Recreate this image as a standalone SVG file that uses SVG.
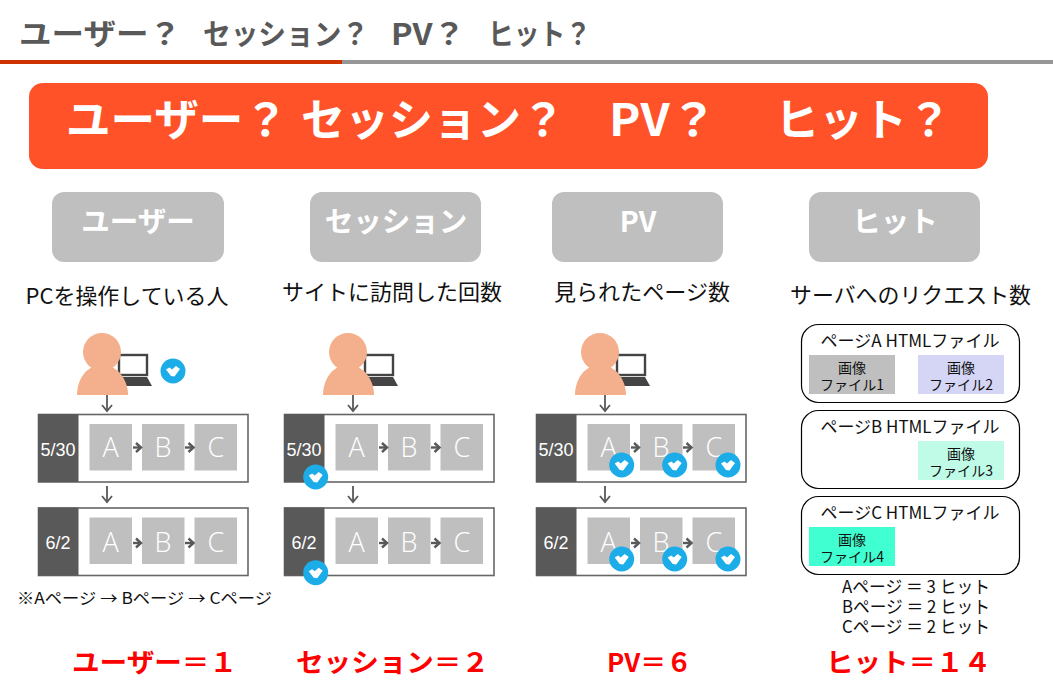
<svg xmlns="http://www.w3.org/2000/svg" xmlns:xlink="http://www.w3.org/1999/xlink" width="1053" height="687" viewBox="0 0 1053 687">
<style>
text{font-family:"Noto Sans CJK JP","Noto Sans",sans-serif}
.title{font-size:29px;font-weight:700;fill:#595959}
.banner{font-size:44px;font-weight:700;fill:#fff}
.tag{font-size:28.500px;font-weight:700;fill:#fff;text-anchor:middle}
.sub{font-size:21.500px;fill:#111;text-anchor:middle}
.small{font-size:16px;fill:#111}
.file{font-size:17px;fill:#111;text-anchor:middle}
.img{font-size:14px;fill:#111;text-anchor:middle}
.hit{font-size:17.500px;fill:#111;text-anchor:middle}
.res{font-size:26px;font-weight:700;fill:#f00}
.date{font-family:"Liberation Sans",sans-serif;font-size:18px;fill:#fff;text-anchor:middle}
.pg{font-family:"Open Sans",sans-serif;font-size:27px;font-weight:300;fill:#fff;text-anchor:middle}
.tagbox{fill:#bfbfbf}
.fbox{fill:#fff;stroke:#000;stroke-width:1.2}
.conn{fill:none;stroke:#595959;stroke-width:1.8;marker-end:url(#ah)}
.conn2{fill:none;stroke:#595959;stroke-width:2.4;marker-end:url(#ah2)}
</style>
<defs>
<marker id="ah" markerUnits="userSpaceOnUse" viewBox="-8 -6 10 12" refX="0" refY="0" markerWidth="10" markerHeight="12" orient="auto"><path d="M-6-5 0 0-6 5" fill="none" stroke="#595959" stroke-width="1.8"/></marker>
<marker id="ah2" markerUnits="userSpaceOnUse" viewBox="-8 -6 10 12" refX="0" refY="0" markerWidth="10" markerHeight="12" orient="auto"><path d="M-5-4.500 0 0-5 4.500" fill="none" stroke="#595959" stroke-width="2.400"/></marker>
<g id="person">
<rect x="119" y="355" width="28" height="20" fill="#fff" stroke="#444" stroke-width="2.400"/>
<path d="M117 377H147L152 386H113Z" fill="#444"/>
<circle cx="102" cy="352" r="19" fill="#f4b08c"/>
<path d="M77 395C77 380 86 365 102 365C118 365 128 380 128 395Z" fill="#f4b08c"/>
</g>
<g id="check">
<circle r="12.500" fill="#1cade8"/>
<path d="M-7-1.500-3.500-3.500-1-1.500 3-5 7-2 1.500 5.500-2 5Z" fill="#fff"/>
</g>
<g id="row">
<rect x="38.500" y="0.500" width="209.500" height="67.500" fill="#fff" stroke="#666" stroke-width="1.600"/>
<rect x="38" y="0" width="40.500" height="68" fill="#595959"/>
<rect x="89.500" y="10" width="42.500" height="46.500" fill="#bfbfbf"/>
<rect x="142" y="10" width="42.500" height="46.500" fill="#bfbfbf"/>
<rect x="194.500" y="10" width="42.500" height="46.500" fill="#bfbfbf"/>
</g>
</defs>
<rect width="1053" height="687" fill="#fff"/>

<g id="header">
<rect x="0" y="60" width="342" height="4" fill="#cc3300"/>
<rect x="342" y="60" width="711" height="4" fill="#969696"/>
<text class="title" x="19" y="45" textLength="162" lengthAdjust="spacingAndGlyphs">ユーザー？</text>
<text class="title" x="203" y="45" textLength="166" lengthAdjust="spacingAndGlyphs">セッション？</text>
<text class="title" x="391" y="45" textLength="74" lengthAdjust="spacingAndGlyphs">PV？</text>
<text class="title" x="488" y="45" textLength="103" lengthAdjust="spacingAndGlyphs">ヒット？</text>
</g>

<g id="banner">
<rect x="29" y="83" width="959" height="86" rx="14" fill="#ff5228"/>
<text class="banner" x="66" y="136" textLength="222" lengthAdjust="spacingAndGlyphs">ユーザー？</text>
<text class="banner" x="301" y="136" textLength="264" lengthAdjust="spacingAndGlyphs">セッション？</text>
<text class="banner" x="609" y="136" textLength="108" lengthAdjust="spacingAndGlyphs">PV？</text>
<text class="banner" x="775" y="136" textLength="176" lengthAdjust="spacingAndGlyphs">ヒット？</text>
</g>

<g id="col-user">
<rect class="tagbox" x="52" y="192" width="172" height="70" rx="12"/>
<text class="tag" x="138" y="232">ユーザー</text>
<text class="sub" x="127" y="304" textLength="203" lengthAdjust="spacingAndGlyphs">PCを操作している人</text>
<use href="#person"/>
<use href="#check" x="173" y="371"/>
<use href="#row" y="414"/>
<use href="#row" y="507.500"/>
<text class="date" x="58" y="456">5/30</text>
<text class="date" x="58" y="549">6/2</text>
<text class="pg" x="110.500" y="457">A</text><text class="pg" x="163" y="457">B</text><text class="pg" x="216" y="457">C</text>
<text class="pg" x="110.500" y="552">A</text><text class="pg" x="163" y="552">B</text><text class="pg" x="216" y="552">C</text>
<text class="small" x="17" y="604" textLength="255" lengthAdjust="spacingAndGlyphs">※Aページ → Bページ → Cページ</text>
<text class="res" x="72" y="672" textLength="165" lengthAdjust="spacingAndGlyphs">ユーザー＝１</text>
</g>

<g id="col-session">
<rect class="tagbox" x="310" y="192" width="171" height="70" rx="12"/>
<text class="tag" x="396" y="232">セッション</text>
<text class="sub" x="392" y="300" textLength="220" lengthAdjust="spacingAndGlyphs">サイトに訪問した回数</text>
<g transform="translate(246 0)">
<use href="#person"/>
<use href="#row" y="414"/>
<use href="#row" y="507.500"/>
<text class="date" x="58" y="456">5/30</text>
<text class="date" x="58" y="549">6/2</text>
<text class="pg" x="110.500" y="457">A</text><text class="pg" x="163" y="457">B</text><text class="pg" x="216" y="457">C</text>
<text class="pg" x="110.500" y="552">A</text><text class="pg" x="163" y="552">B</text><text class="pg" x="216" y="552">C</text>
</g>
<text class="res" x="296" y="672" textLength="193" lengthAdjust="spacingAndGlyphs">セッション＝２</text>
</g>

<g id="col-pv">
<rect class="tagbox" x="552" y="192" width="171" height="70" rx="12"/>
<text class="tag" x="638" y="232">PV</text>
<text class="sub" x="642" y="300" textLength="176" lengthAdjust="spacingAndGlyphs">見られたページ数</text>
<g transform="translate(498 0)">
<use href="#person"/>
<use href="#row" y="414"/>
<use href="#row" y="507.500"/>
<text class="date" x="58" y="456">5/30</text>
<text class="date" x="58" y="549">6/2</text>
<text class="pg" x="110.500" y="457">A</text><text class="pg" x="163" y="457">B</text><text class="pg" x="216" y="457">C</text>
<text class="pg" x="110.500" y="552">A</text><text class="pg" x="163" y="552">B</text><text class="pg" x="216" y="552">C</text>
</g>
<text class="res" x="607" y="672" textLength="85" lengthAdjust="spacingAndGlyphs">PV＝６</text>
</g>

<g id="col-hit">
<rect class="tagbox" x="809" y="192" width="171" height="70" rx="12"/>
<text class="tag" x="895" y="232">ヒット</text>
<text class="sub" x="910.500" y="303" textLength="241" lengthAdjust="spacingAndGlyphs">サーバへのリクエスト数</text>
<g id="page-a">
<rect class="fbox" x="801.500" y="324.500" width="218" height="78" rx="17"/>
<text class="file" x="910" y="347" textLength="179" lengthAdjust="spacingAndGlyphs">ページA HTMLファイル</text>
<rect x="809" y="355" width="86" height="39" fill="#bfbfbf"/>
<rect x="918" y="355" width="86" height="39" fill="#d5d5f5"/>
<text class="img" x="852" y="373">画像</text><text class="img" x="852" y="390" textLength="64" lengthAdjust="spacingAndGlyphs">ファイル1</text>
<text class="img" x="961" y="373">画像</text><text class="img" x="961" y="390" textLength="64" lengthAdjust="spacingAndGlyphs">ファイル2</text>
</g>
<g id="page-b">
<rect class="fbox" x="801.500" y="410.500" width="218" height="78" rx="17"/>
<text class="file" x="910" y="433" textLength="179" lengthAdjust="spacingAndGlyphs">ページB HTMLファイル</text>
<rect x="918" y="441" width="86" height="39" fill="#c0fbe8"/>
<text class="img" x="961" y="459">画像</text><text class="img" x="961" y="476" textLength="64" lengthAdjust="spacingAndGlyphs">ファイル3</text>
</g>
<g id="page-c">
<rect class="fbox" x="801.500" y="496.500" width="218" height="78" rx="17"/>
<text class="file" x="910" y="519" textLength="179" lengthAdjust="spacingAndGlyphs">ページC HTMLファイル</text>
<rect x="809" y="527" width="86" height="39" fill="#40ffd0"/>
<text class="img" x="852" y="545">画像</text><text class="img" x="852" y="562" textLength="64" lengthAdjust="spacingAndGlyphs">ファイル4</text>
</g>
<text class="hit" x="916" y="593" textLength="148" lengthAdjust="spacingAndGlyphs">Aページ ＝ 3 ヒット</text>
<text class="hit" x="916" y="613" textLength="148" lengthAdjust="spacingAndGlyphs">Bページ ＝ 2 ヒット</text>
<text class="hit" x="916" y="633" textLength="148" lengthAdjust="spacingAndGlyphs">Cページ ＝ 2 ヒット</text>
<text class="res" x="826" y="672" textLength="165" lengthAdjust="spacingAndGlyphs">ヒット＝１４</text>
</g>

<g id="connectors">
<path class="conn" d="M107 395V411"/><path class="conn" d="M107 486V502"/>
<path class="conn" d="M353 395V411"/><path class="conn" d="M353 486V502"/>
<path class="conn" d="M605 395V411"/><path class="conn" d="M605 486V502"/>
<path class="conn2" d="M133 447.500H141"/><path class="conn2" d="M185 447.500H193.500"/>
<path class="conn2" d="M133 543H141"/><path class="conn2" d="M185 543H193.500"/>
<path class="conn2" d="M379 447.500H387"/><path class="conn2" d="M431 447.500H439.500"/>
<path class="conn2" d="M379 543H387"/><path class="conn2" d="M431 543H439.500"/>
<path class="conn2" d="M631 447.500H639"/><path class="conn2" d="M683 447.500H691.500"/>
<path class="conn2" d="M631 543H639"/><path class="conn2" d="M683 543H691.500"/>
</g>

<g id="badges">
<use href="#check" x="315.700" y="477"/>
<use href="#check" x="315.700" y="572.700"/>
<use href="#check" x="621.700" y="465"/>
<use href="#check" x="674.700" y="465"/>
<use href="#check" x="728" y="465"/>
<use href="#check" x="621.700" y="559"/>
<use href="#check" x="674.700" y="559"/>
<use href="#check" x="728" y="559"/>
</g>
</svg>
